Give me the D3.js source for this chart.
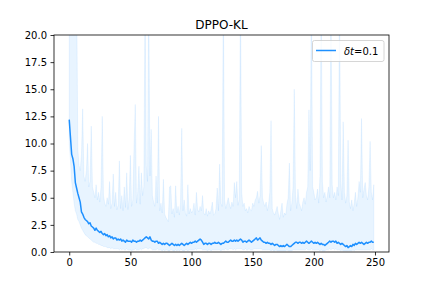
<!DOCTYPE html>
<html>
<head>
<meta charset="utf-8">
<script src="https://cdn.jsdelivr.net/npm/d3@7"></script>
<style>
body { margin: 0; background: #fff; }
text { font-family: "DejaVu Sans", sans-serif; }
</style>
</head>
<body>
<svg id="svg_elem"></svg>
<script>
//define constants
const svgWidth = 432;
const svgHeight = 288;
const plotLeft = 54, plotRight = 389, plotTop = 35, plotBottom = 252;
const lineColor = '#1e90ff';

//chart data
const chartTitle = 'DPPO-KL';
const legendLabel = '=0.1';
const xTicks = [0, 50, 100, 150, 200, 250];
const yTicks = [0, 2.5, 5, 7.5, 10, 12.5, 15, 17.5, 20];

const meanValues = [
	12.2, 10.6, 9.0, 8.6, 7.9, 6.4, 5.9, 5.4, 5.0, 4.6,
	3.7, 3.5, 3.2, 3.0, 2.9, 2.8, 2.6, 2.7, 2.4, 2.3,
	2.2, 2.0, 2.2, 2.0, 1.9, 1.8, 1.9, 1.7, 1.6, 1.7,
	1.5, 1.6, 1.4, 1.5, 1.3, 1.4, 1.2, 1.3, 1.3, 1.1,
	1.2, 1.1, 1.2, 1.0, 1.1, 1.0, 0.9, 1.1, 1.0, 1.0,
	1.0, 0.9, 1.1, 1.0, 1.0, 0.9, 1.0, 1.0, 1.1, 1.0,
	1.1, 1.2, 1.3, 1.4, 1.3, 1.2, 1.4, 1.1, 1.0, 1.0,
	0.9, 1.0, 1.0, 0.8, 0.9, 0.8, 0.7, 0.8, 0.7, 0.8,
	0.8, 0.7, 0.6, 0.7, 0.8, 0.7, 0.6, 0.7, 0.6, 0.7,
	0.6, 0.7, 0.8, 0.7, 0.6, 0.7, 0.8, 0.7, 0.8, 0.9,
	0.8, 0.9, 0.9, 1.0, 0.9, 1.0, 1.1, 1.2, 1.1, 0.9,
	0.7, 0.8, 0.8, 0.7, 0.8, 0.8, 0.7, 0.8, 0.8, 0.9,
	0.8, 0.8, 0.9, 0.8, 0.7, 0.8, 0.8, 0.9, 1.0, 0.9,
	0.9, 1.0, 1.1, 1.0, 1.0, 1.1, 1.0, 1.1, 1.0, 1.1,
	1.2, 1.1, 0.9, 1.0, 1.0, 0.9, 1.0, 1.1, 1.0, 0.9,
	1.0, 1.1, 1.2, 1.3, 1.1, 1.2, 1.3, 1.1, 1.0, 0.9,
	0.9, 0.8, 0.9, 0.8, 0.8, 0.7, 0.8, 0.7, 0.6, 0.7,
	0.7, 0.6, 0.5, 0.6, 0.5, 0.6, 0.5, 0.6, 0.7, 0.6,
	0.5, 0.5, 0.6, 0.7, 0.8, 0.9, 0.9, 0.8, 0.9, 0.9,
	0.8, 0.9, 0.8, 0.9, 1.0, 0.9, 0.8, 0.9, 1.0, 0.9,
	0.8, 0.9, 0.8, 0.9, 0.8, 0.7, 0.8, 0.7, 0.7, 0.6,
	0.7, 0.8, 0.9, 1.0, 0.9, 1.0, 1.0, 0.9, 1.0, 0.8,
	0.9, 0.8, 0.7, 0.8, 0.7, 0.6, 0.5, 0.6, 0.4, 0.5,
	0.6, 0.5, 0.7, 0.6, 0.8, 0.7, 0.8, 0.9, 0.8, 0.9,
	0.8, 0.7, 0.8, 0.9, 0.8, 0.9, 0.9, 1.0, 0.9, 0.9
];

const upperValues = [
	26, 25, 23, 21, 21, 24, 26, 9.5, 8.0, 7.5,
	9.0, 13.2, 7.0, 6.5, 7.5, 10.0, 6.0, 6.5, 11.6, 6.0,
	5.5, 5.0, 6.2, 4.8, 5.5, 4.6, 6.0, 12.5, 5.2, 4.5,
	4.2, 5.0, 4.4, 6.5, 4.0, 4.5, 7.2, 4.2, 5.5, 3.9,
	4.3, 8.4, 4.0, 5.2, 3.8, 6.0, 4.1, 7.3, 3.9, 5.0,
	8.9, 4.2, 4.8, 9.7, 13.6, 4.5, 5.5, 7.9, 4.4, 7.3,
	5.2, 6.0, 24, 8.0, 6.5, 24, 7.0, 11.3, 5.2, 4.6,
	4.2, 7.0, 4.5, 12.5, 3.8, 4.5, 3.6, 6.7, 3.5, 3.2,
	3.0, 2.8, 6.0, 6.1, 3.5, 4.0, 3.2, 6.1, 3.6, 4.2,
	3.4, 4.5, 11.4, 3.8, 4.8, 3.6, 3.3, 6.2, 3.5, 4.0,
	3.6, 3.8, 4.5, 3.4, 5.5, 3.9, 3.7, 4.2, 3.8, 5.2,
	3.6, 3.4, 4.0, 3.3, 3.8, 3.5, 3.9, 4.6, 3.4, 3.5,
	4.0, 5.9, 3.8, 8.1, 4.5, 4.2, 24, 4.8, 4.0, 4.5,
	5.0, 4.4, 4.0, 4.6, 4.2, 6.4, 5.0, 6.5, 4.3, 4.8,
	24, 5.5, 4.2, 4.5, 3.8, 4.0, 3.6, 4.2, 3.9, 3.8,
	4.5, 4.2, 4.8, 5.0, 5.6, 4.5, 5.2, 9.8, 5.0, 4.5,
	4.2, 4.6, 3.8, 4.4, 5.5, 12.1, 4.0, 3.6, 3.4, 3.8,
	4.2, 3.5, 3.0, 3.8, 4.5, 3.2, 3.6, 3.4, 4.4, 5.0,
	8.2, 3.8, 4.5, 6.0, 15.0, 5.2, 4.0, 5.8, 4.5, 4.2,
	3.8, 4.6, 5.0, 4.4, 5.5, 6.0, 13.1, 7.5, 24, 6.0,
	5.5, 4.8, 5.0, 5.8, 4.5, 7.0, 24, 6.5, 5.0, 5.5,
	4.6, 5.2, 6.0, 5.0, 24, 6.2, 5.0, 5.5, 4.8, 6.0,
	5.2, 24, 6.5, 4.8, 12.0, 5.5, 4.5, 5.2, 10.3, 4.6,
	4.0, 4.8, 3.8, 4.5, 5.5, 4.2, 5.0, 6.5, 5.5, 12.3,
	5.0, 5.8, 6.4, 5.2, 4.8, 6.0, 10.2, 5.5, 4.8, 6.2
];

const lowerValues = [
	10.0, 8.5, 6.5, 5.5, 4.5, 3.8, 3.5, 3.0, 2.8, 2.5,
	2.2, 2.0, 1.8, 1.6, 1.5, 1.4, 1.3, 1.2, 1.1, 1.0,
	0.9, 0.9, 0.8, 0.8, 0.7, 0.7, 0.6, 0.6, 0.5, 0.5,
	0.5, 0.4, 0.4, 0.4, 0.3, 0.4, 0.3, 0.3, 0.3, 0.3,
	0.3, 0.2, 0.3, 0.2, 0.3, 0.2, 0.2, 0.3, 0.2, 0.2,
	0.2, 0.1, 0.2, 0.2, 0.3, 0.2, 0.2, 0.2, 0.3, 0.2,
	0.3, 0.3, 0.4, 0.4, 0.3, 0.3, 0.4, 0.3, 0.2, 0.2,
	0.2, 0.2, 0.3, 0.2, 0.2, 0.2, 0.1, 0.2, 0.1, 0.2,
	0.2, 0.1, 0.1, 0.2, 0.2, 0.1, 0.1, 0.2, 0.1, 0.2,
	0.1, 0.2, 0.2, 0.1, 0.1, 0.2, 0.2, 0.1, 0.2, 0.2,
	0.2, 0.2, 0.2, 0.3, 0.2, 0.3, 0.3, 0.3, 0.3, 0.2,
	0.2, 0.2, 0.2, 0.1, 0.2, 0.2, 0.1, 0.2, 0.2, 0.2,
	0.2, 0.2, 0.2, 0.2, 0.1, 0.2, 0.2, 0.2, 0.3, 0.2,
	0.2, 0.3, 0.3, 0.3, 0.2, 0.3, 0.2, 0.3, 0.3, 0.3,
	0.3, 0.3, 0.2, 0.2, 0.3, 0.2, 0.2, 0.3, 0.2, 0.2,
	0.2, 0.3, 0.3, 0.3, 0.3, 0.3, 0.3, 0.3, 0.2, 0.2,
	0.2, 0.2, 0.2, 0.2, 0.2, 0.1, 0.2, 0.1, 0.1, 0.2,
	0.1, 0.1, 0.1, 0.1, 0.1, 0.1, 0.1, 0.1, 0.2, 0.1,
	0.1, 0.1, 0.1, 0.2, 0.2, 0.2, 0.2, 0.2, 0.2, 0.2,
	0.2, 0.2, 0.2, 0.2, 0.3, 0.2, 0.2, 0.2, 0.3, 0.2,
	0.2, 0.2, 0.2, 0.2, 0.2, 0.1, 0.2, 0.1, 0.1, 0.1,
	0.2, 0.2, 0.2, 0.3, 0.2, 0.3, 0.3, 0.2, 0.3, 0.2,
	0.2, 0.2, 0.1, 0.2, 0.1, 0.1, 0.1, 0.1, 0.1, 0.1,
	0.1, 0.1, 0.2, 0.1, 0.2, 0.2, 0.2, 0.2, 0.2, 0.2,
	0.2, 0.2, 0.2, 0.2, 0.2, 0.2, 0.2, 0.3, 0.2, 0.2
];

//build rows
var data = meanValues.map((m, i) => ({step: i, mean: m, upper: upperValues[i], lower: lowerValues[i]}));

//scales
var xScale = d3.scaleLinear()
	.domain([-12.45, 261.45])
	.range([plotLeft, plotRight]);
var yScale = d3.scaleLinear()
	.domain([0, 20])
	.range([plotBottom, plotTop]);

//configure svg
var svg = d3.select('#svg_elem')
	.attr('width', svgWidth)
	.attr('height', svgHeight);

svg.append('rect')
	.attr('width', svgWidth)
	.attr('height', svgHeight)
	.attr('fill', '#fff');

svg.append('clipPath')
	.attr('id', 'plot_clip')
	.append('rect')
		.attr('x', plotLeft)
		.attr('y', plotTop)
		.attr('width', plotRight - plotLeft)
		.attr('height', plotBottom - plotTop);

var plot = svg.append('g')
	.attr('clip-path', 'url(#plot_clip)');

//shaded band
var band = d3.area()
	.x(d => xScale(d.step))
	.y0(d => yScale(d.lower))
	.y1(d => yScale(d.upper));

plot.append('path')
	.datum(data)
	.attr('d', band)
	.attr('fill', lineColor)
	.attr('fill-opacity', 0.1)
	.attr('stroke', lineColor)
	.attr('stroke-opacity', 0.08)
	.attr('stroke-width', 1);

//mean line
var line = d3.line()
	.x(d => xScale(d.step))
	.y(d => yScale(d.mean));

plot.append('path')
	.datum(data)
	.attr('d', line)
	.attr('fill', 'none')
	.attr('stroke', lineColor)
	.attr('stroke-width', 1.5)
	.attr('stroke-linejoin', 'round');

//axes
var xAxis = svg.append('g')
	.attr('transform', `translate(0, ${plotBottom})`)
	.call(d3.axisBottom(xScale).tickValues(xTicks).tickSize(3.5).tickPadding(3.5).tickFormat(d3.format('d')));
var yAxis = svg.append('g')
	.attr('transform', `translate(${plotLeft}, 0)`)
	.call(d3.axisLeft(yScale).tickValues(yTicks).tickSize(3.5).tickPadding(3.5).tickFormat(d3.format('.1f')));

[xAxis, yAxis].forEach(ax => {
	ax.select('.domain').remove();
	ax.selectAll('line').attr('stroke', '#000').attr('stroke-width', 0.8);
	ax.selectAll('text')
		.attr('fill', '#000')
		.style('font-family', '"DejaVu Sans", sans-serif')
		.style('font-size', '10px');
});

//frame
svg.append('rect')
	.attr('x', plotLeft)
	.attr('y', plotTop)
	.attr('width', plotRight - plotLeft)
	.attr('height', plotBottom - plotTop)
	.attr('fill', 'none')
	.attr('stroke', '#000')
	.attr('stroke-width', 0.8);

//title
svg.append('text')
	.attr('x', (plotLeft + plotRight) / 2)
	.attr('y', 28.5)
	.attr('text-anchor', 'middle')
	.style('font-size', '12px')
	.text(chartTitle);

//legend
var legend = svg.append('g');
legend.append('rect')
	.attr('x', 312.5)
	.attr('y', 40.5)
	.attr('width', 71.5)
	.attr('height', 21)
	.attr('rx', 2)
	.attr('fill', '#fff')
	.attr('fill-opacity', 0.8)
	.attr('stroke', '#ccc')
	.attr('stroke-width', 0.8);
legend.append('line')
	.attr('x1', 316)
	.attr('x2', 336)
	.attr('y1', 50.5)
	.attr('y2', 50.5)
	.attr('stroke', lineColor)
	.attr('stroke-width', 1.5);
var legendText = legend.append('text')
	.attr('x', 344)
	.attr('y', 54.5)
	.style('font-size', '10px');
legendText.append('tspan').style('font-style', 'italic').text('δt');
legendText.append('tspan').text(legendLabel);
</script>
</body>
</html>
